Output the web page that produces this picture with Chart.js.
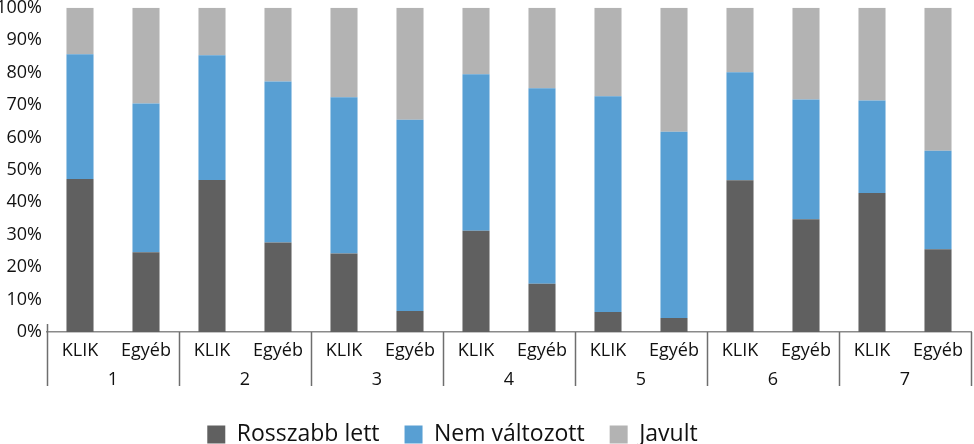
<!DOCTYPE html>
<html>
<head>
<meta charset="utf-8">
<script src="https://cdn.jsdelivr.net/npm/chart.js@4"></script>
<style>
    html, body { margin: 0; padding: 0; background: #fff; }
    #wrap { width: 974px; height: 444px; }
</style>
</head>
<body>
<div id="wrap"><canvas id="chart" width="974" height="444"></canvas></div>
<script>
const groups = ["1", "2", "3", "4", "5", "6", "7"];
const types = ["KLIK", "Egyéb"];
const rosszabb = [47.2, 24.6, 46.9, 27.6, 24.2, 6.5, 31.2, 14.9, 6.2, 4.3, 46.8, 34.8, 42.9, 25.5];
const nemValtozott = [38.5, 45.9, 38.5, 49.7, 48.2, 59.0, 48.3, 60.3, 66.5, 57.5, 33.3, 36.9, 28.5, 30.4];
const javult = [14.3, 29.5, 14.6, 22.7, 27.6, 34.5, 20.5, 24.8, 27.3, 38.2, 19.9, 28.3, 28.6, 44.1];
const yTicks = [0, 10, 20, 30, 40, 50, 60, 70, 80, 90, 100];

const labels = [];
groups.forEach(() => types.forEach(t => labels.push(t)));

const font = "'Open Sans', sans-serif";

// separators between the groups under the x axis
const groupLines = {
    id: "groupLines",
    afterLayout(chart) {
        // legend sits a bit left of centre in the original
        chart.legend.left -= 33;
        chart.legend.right -= 33;
    },
    afterDraw(chart) {
        const x = chart.scales.x;
        const x2 = chart.scales.x2;
        const ctx = chart.ctx;
        const step = x2.width / groups.length;
        ctx.save();
        ctx.strokeStyle = "#6e6e6e";
        ctx.lineWidth = 1.5;
        for (let i = 0; i <= groups.length; i++) {
            const px = Math.round(x2.left + i * step) + 0.5;
            ctx.beginPath();
            ctx.moveTo(px, i === 0 ? x.top - 8 : x.top);
            ctx.lineTo(px, x.top + 54);
            ctx.stroke();
        }
        ctx.restore();
    }
};

new Chart(document.getElementById("chart"), {
    type: "bar",
    data: {
        labels: labels,
        datasets: [
            { label: "Rosszabb lett", data: rosszabb, backgroundColor: "#606060" },
            { label: "Nem változott", data: nemValtozott, backgroundColor: "#589fd3" },
            { label: "Javult", data: javult, backgroundColor: "#b3b3b3" }
        ]
    },
    options: {
        responsive: false,
        animation: false,
        layout: { padding: { top: 5, right: 3, left: 0, bottom: -12 } },
        datasets: {
            bar: { categoryPercentage: 1, barPercentage: 0.41 }
        },
        plugins: {
            tooltip: { enabled: false },
            legend: {
                position: "bottom",
                labels: {
                    boxWidth: 18,
                    boxHeight: 18,
                    padding: 25,
                    color: "#111",
                    font: { family: font, size: 23 }
                }
            }
        },
        scales: {
            x: {
                stacked: true,
                grid: { display: false },
                border: { display: true, color: "#8a8a8a", width: 1.5 },
                ticks: { color: "#111", font: { family: font, size: 18 }, padding: 0, maxRotation: 0 },
                afterFit: s => { s.height = 28; }
            },
            x2: {
                type: "category",
                labels: groups,
                position: "bottom",
                grid: { display: false },
                border: { display: false },
                ticks: { color: "#111", font: { family: font, size: 18 }, padding: 1 },
                afterFit: s => { s.height = 38; }
            },
            y: {
                stacked: true,
                min: 0,
                max: 100,
                grid: { display: false },
                border: { display: false },
                afterBuildTicks: s => { s.ticks = yTicks.map(v => ({ value: v })); },
                ticks: {
                    color: "#111",
                    font: { family: font, size: 18 },
                    padding: -3,
                    callback: v => v + "%"
                },
                afterFit: s => { s.width = 47; }
            }
        }
    },
    plugins: [groupLines]
});
</script>
</body>
</html>
